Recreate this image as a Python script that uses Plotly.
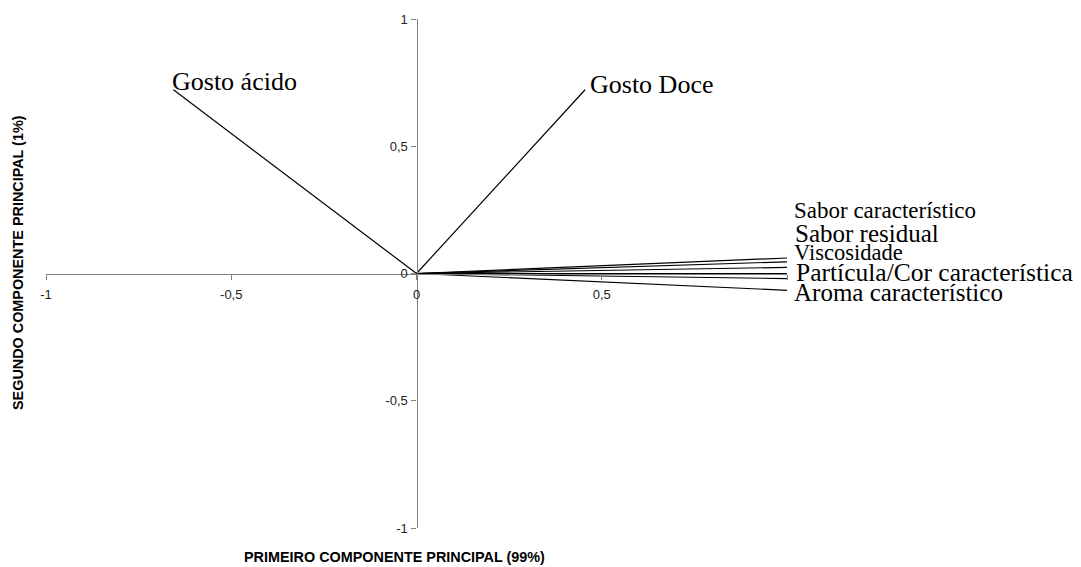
import plotly.graph_objects as go

# Loadings of the sensory attributes on the first two principal components
attributes = ["Gosto ácido", "Gosto Doce", "Sabor característico", "Sabor residual",
              "Viscosidade", "Partícula", "Cor característica", "Aroma característico"]
pc1 = [-0.656, 0.455, 1.0, 1.0, 1.0, 1.0, 1.0, 1.0]
pc2 = [0.722, 0.722, 0.061, 0.046, 0.024, 0.0, -0.020, -0.066]

tick_vals = [-1, -0.5, 0, 0.5, 1]
x_tick_text = ["-1", "-0,5", "0", "0,5", ""]
y_tick_text = ["-1", "-0,5", "0", "0,5", "1"]

x_title = "PRIMEIRO COMPONENTE PRINCIPAL (99%)"
y_title = "SEGUNDO COMPONENTE PRINCIPAL (1%)"

# Label text, anchor point (in axis units) and font size for each vector label
labels = [
    ("Gosto ácido", -0.662, 0.756, 26),
    ("Gosto Doce", 0.466, 0.744, 26),
    ("Sabor característico", 1.016, 0.249, 23),
    ("Sabor residual", 1.018, 0.158, 25),
    ("Viscosidade", 1.016, 0.082, 22.5),
    ("Partícula/Cor característica", 1.021, 0.003, 25.5),
    ("Aroma característico", 1.016, -0.073, 25),
]

X_RANGE = [-1, 1]
Y_RANGE = [-1, 1]


def to_paper(v, rng):
    return (v - rng[0]) / (rng[1] - rng[0])


fig = go.Figure()

# One segment from the origin to each loading
for name, x, y in zip(attributes, pc1, pc2):
    fig.add_trace(go.Scatter(
        x=[0, x], y=[0, y], mode="lines", name=name,
        line=dict(color="black", width=1.2),
        hoverinfo="skip", showlegend=False,
    ))

# Labels are placed in paper space so those past the right end stay visible
for text, lx, ly, size in labels:
    fig.add_annotation(
        x=to_paper(lx, X_RANGE), y=to_paper(ly, Y_RANGE),
        xref="paper", yref="paper", text=text, showarrow=False,
        xanchor="left", yanchor="middle",
        font=dict(family="Liberation Serif", size=size, color="black"),
        borderpad=0,
    )

axis_common = dict(
    tickvals=tick_vals,
    showline=True, linecolor="#808080", linewidth=1.3,
    ticks="outside", ticklen=5, tickcolor="#808080", tickwidth=1.3,
    showgrid=False, zeroline=False, anchor="free", position=0.5,
    tickfont=dict(family="Liberation Sans", size=13, color="#222"),
)

fig.update_xaxes(**axis_common, range=X_RANGE, ticktext=x_tick_text,
                 ticklabelstandoff=4)
fig.update_yaxes(**axis_common, range=Y_RANGE, ticktext=y_tick_text,
                 ticklabelstandoff=1)

W, H = 1081, 567
ML, MR, MT, MB = 46, 294, 19, 39
PW, PH = W - ML - MR, H - MT - MB

# Axis titles positioned from pixel coordinates
fig.add_annotation(
    x=(394 - ML) / PW, y=((H - 557) - MB) / PH, xref="paper", yref="paper",
    text=f"<b>{x_title}</b>", showarrow=False, xanchor="center", yanchor="middle",
    font=dict(family="Liberation Sans", size=14.4, color="black"),
)
fig.add_annotation(
    x=(18 - ML) / PW, y=((H - 263) - MB) / PH, xref="paper", yref="paper",
    text=f"<b>{y_title}</b>", showarrow=False, xanchor="center", yanchor="middle",
    textangle=-90,
    font=dict(family="Liberation Sans", size=14.4, color="black"),
)

fig.update_layout(
    width=W, height=H,
    margin=dict(l=ML, r=MR, t=MT, b=MB),
    paper_bgcolor="white", plot_bgcolor="white",
    separators=",.",
)

fig.write_html("out.html")
